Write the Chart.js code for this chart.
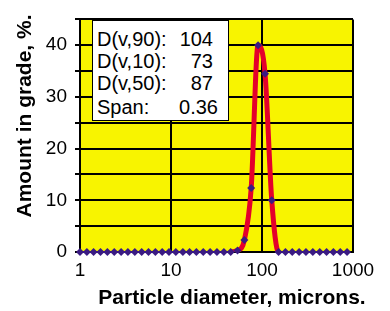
<!DOCTYPE html>
<html>
<head>
<meta charset="utf-8">
<script src="https://cdn.jsdelivr.net/npm/chart.js@4"></script>
<style>
  body { margin: 0; background: #fff; }
  #wrap { position: relative; width: 390px; height: 311px; }
  #stats {
    position: absolute; left: 92px; top: 20px; width: 135px; height: 99px;
    background: #fff; border: 1.5px solid #000;
    font: 20px "Liberation Sans", Arial, sans-serif; color: #000;
  }
  #stats div { position: absolute; left: 4px; right: 15px; height: 22px; line-height: 22px; }
  #stats span { position: absolute; right: 0; }
</style>
</head>
<body>
<div id="wrap">
  <canvas id="chart" width="390" height="311"></canvas>
  <div id="stats"></div>
</div>
<script>
// particle size classes (microns) and amount in each grade (%)
const sizes = [1, 1.19, 1.41, 1.68, 2, 2.38, 2.83, 3.36, 4, 4.76, 5.66, 6.73, 8, 9.51,
  11.3, 13.5, 16, 19, 22.6, 26.9, 32, 38.1, 45.3, 53.8, 64, 76.1, 90.5, 108, 128, 152,
  181, 215, 256, 304, 362, 431, 512, 609, 724, 861];
const amounts = [0, 0, 0, 0, 0, 0, 0, 0, 0, 0, 0, 0, 0, 0,
  0, 0, 0, 0, 0, 0, 0, 0, 0, 0.3, 2.3, 12.4, 40, 34.5, 10, 0,
  0, 0, 0, 0, 0, 0, 0, 0, 0, 0];
const xTicks = [1, 10, 100, 1000];
const yLabels = [0, 10, 20, 30, 40];

const statNames = ['D(v,90):', 'D(v,10):', 'D(v,50):', 'Span:'];
const statValues = ['104', '73', '87', '0.36'];

const stats = document.getElementById('stats');
const rowTops = [7, 29, 51, 75];
statNames.forEach((name, i) => {
  const row = document.createElement('div');
  row.style.top = rowTops[i] + 'px';
  if (i === 3) row.style.right = '10px';
  row.textContent = name;
  const val = document.createElement('span');
  val.textContent = statValues[i];
  row.appendChild(val);
  stats.appendChild(row);
});

const points = sizes.map((s, i) => ({ x: s, y: amounts[i] }));
const red = '#e4002b';
const purple = '#3a1a82';
const hidden = 'rgba(0,0,0,0)';

const plotBg = {
  id: 'plotBg',
  beforeDraw(chart) {
    const { ctx, chartArea: a } = chart;
    ctx.save();
    ctx.fillStyle = '#f8f400';
    ctx.fillRect(a.left, a.top, a.right - a.left, a.bottom - a.top);
    ctx.restore();
  }
};

const axisTitles = {
  id: 'axisTitles',
  afterDraw(chart) {
    const ctx = chart.ctx;
    ctx.save();
    ctx.fillStyle = '#000';
    ctx.font = 'bold 21px "Liberation Sans", Arial, sans-serif';
    ctx.textAlign = 'center';
    ctx.textBaseline = 'middle';
    ctx.fillText('Particle diameter, microns.', 232, 298);
    ctx.translate(25, 116);
    ctx.rotate(-Math.PI / 2);
    ctx.fillText('Amount in grade, %.', 0, 0);
    ctx.restore();
  }
};

new Chart(document.getElementById('chart'), {
  type: 'line',
  data: {
    datasets: [
      {
        data: points,
        borderColor: red,
        borderWidth: 5,
        pointRadius: 0,
        cubicInterpolationMode: 'monotone',
        segment: {
          borderColor: c => (c.p0.parsed.y > 0 || c.p1.parsed.y > 0) ? red : hidden
        },
        order: 2
      },
      {
        data: points,
        borderColor: purple,
        borderWidth: 2,
        pointStyle: 'rectRot',
        pointRadius: 4,
        pointBackgroundColor: purple,
        pointBorderWidth: 0,
        clip: false,
        segment: {
          borderColor: c => (c.p0.parsed.y > 0 || c.p1.parsed.y > 0) ? hidden : purple
        },
        order: 1
      }
    ]
  },
  options: {
    responsive: false,
    animation: false,
    layout: { padding: { top: 10, right: 37, left: 0, bottom: 0 } },
    plugins: { legend: { display: false }, tooltip: { enabled: false } },
    scales: {
      x: {
        type: 'logarithmic',
        min: 1,
        max: 1000,
        afterBuildTicks: s => { s.ticks = xTicks.map(v => ({ value: v })); },
        afterFit: s => { s.height = 59; },
        ticks: {
          callback: v => String(v),
          color: '#000',
          font: { family: '"Liberation Sans", Arial', size: 19 },
          padding: 7,
          maxRotation: 0
        },
        grid: { color: '#000', lineWidth: 2, drawTicks: false },
        border: { color: '#000', width: 2 }
      },
      y: {
        min: 0,
        max: 45,
        afterFit: s => { s.width = 80; },
        ticks: {
          stepSize: 5,
          callback: v => yLabels.includes(v) ? String(v) : '',
          color: '#000',
          font: { family: '"Liberation Sans", Arial', size: 19 },
          padding: 8
        },
        grid: { color: '#000', lineWidth: 2, tickLength: 5 },
        border: { color: '#000', width: 2 }
      }
    }
  },
  plugins: [plotBg, axisTitles]
});
</script>
</body>
</html>
